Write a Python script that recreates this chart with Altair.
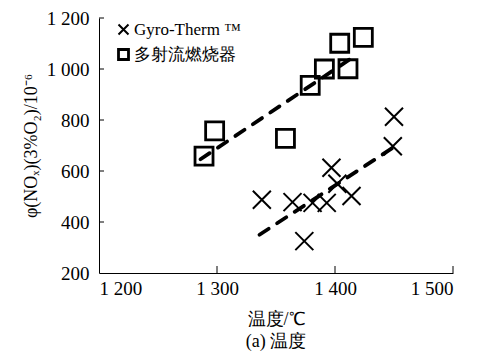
import altair as alt
import pandas as pd

# ---- data ----
series_names = ["Gyro-Therm ™", "多射流燃烧器"]

gyro_temp = [1338, 1364, 1381, 1393, 1374, 1397, 1402, 1414, 1449, 1450]
gyro_nox = [487, 478, 475, 475, 325, 613, 550, 502, 697, 813]

multi_temp = [1289, 1298, 1358, 1379, 1391, 1404, 1411, 1424]
multi_nox = [658, 757, 728, 936, 1000, 1101, 1001, 1124]

# dashed trend lines (endpoints)
gyro_trend_temp = [1336, 1451]
gyro_trend_nox = [350, 697]
multi_trend_temp = [1286, 1419]
multi_trend_nox = [646, 1058]

x_ticks = [1300, 1400, 1500]
y_ticks = [400, 600, 800, 1000, 1200]

FONT = "Liberation Serif"
W, H = 354, 255

pts = pd.DataFrame({"t": gyro_temp, "v": gyro_nox, "s": series_names[0]})
pts = pd.concat(
    [pts, pd.DataFrame({"t": multi_temp, "v": multi_nox, "s": series_names[1]})],
    ignore_index=True,
)
trend = pd.concat(
    [
        pd.DataFrame({"t": gyro_trend_temp, "v": gyro_trend_nox, "s": series_names[0]}),
        pd.DataFrame({"t": multi_trend_temp, "v": multi_trend_nox, "s": series_names[1]}),
    ],
    ignore_index=True,
)

label_expr = "replace(format(datum.value, ','), ',', ' ')"

x_scale = alt.Scale(domain=[1200, 1500], nice=False)
y_scale = alt.Scale(domain=[200, 1200], nice=False)

x_enc = alt.X(
    "t:Q",
    scale=x_scale,
    axis=alt.Axis(
        values=[1200, 1300, 1400, 1500],
        labelExpr=label_expr,
        ticks=False,
        grid=False,
        title="温度/℃",
        labelPadding=6,
        titlePadding=12,
    ),
)
y_enc = alt.Y(
    "v:Q",
    scale=y_scale,
    axis=alt.Axis(
        values=[200, 400, 600, 800, 1000, 1200],
        labelExpr=label_expr,
        ticks=False,
        grid=False,
        title="φ(NOₓ)(3%O₂)/10⁻⁶",
        labelPadding=10,
        titlePadding=6,
    ),
)

lines = alt.Chart(trend).mark_line(
    color="black", strokeWidth=3.8, strokeDash=[11, 10], strokeCap="round"
).encode(x=x_enc, y=y_enc, detail="s:N")

points = alt.Chart(pts).mark_point(filled=False, color="black", size=324, opacity=1).encode(
    x=alt.X("t:Q", scale=x_scale),
    y=alt.Y("v:Q", scale=y_scale),
    shape=alt.Shape(
        "s:N",
        scale=alt.Scale(domain=series_names, range=["M-1,-1L1,1M-1,1L1,-1", "square"]),
        legend=alt.Legend(title=None),
    ),
    strokeWidth=alt.StrokeWidth(
        "s:N", scale=alt.Scale(domain=series_names, range=[2.0, 2.8]), legend=None
    ),
)

xt = alt.Chart(pd.DataFrame({"t": x_ticks})).mark_rule(color="black", strokeWidth=1).encode(
    x=alt.X("t:Q", scale=x_scale), y=alt.value(H), y2=alt.value(H - 7)
)
yt = alt.Chart(pd.DataFrame({"v": y_ticks})).mark_rule(color="black", strokeWidth=1).encode(
    y=alt.Y("v:Q", scale=y_scale), x=alt.value(0), x2=alt.value(5)
)

chart = (
    alt.layer(lines, points, xt, yt)
    .properties(
        width=W,
        height=H,
        autosize=alt.AutoSizeParams(type="none"),
        padding={"left": 91, "top": 10, "right": 17, "bottom": 79},
        title=alt.TitleParams("(a) 温度", orient="bottom", offset=5, fontSize=18,
                              font=FONT, fontWeight="normal", color="black"),
    )
    .configure_view(stroke=None)
    .configure_axis(
        domainColor="black",
        domainWidth=1,
        labelFont=FONT,
        labelFontSize=19,
        labelColor="black",
        titleFont=FONT,
        titleFontSize=18,
        titleFontWeight="normal",
        titleColor="black",
    )
    .configure_legend(
        orient="none",
        legendX=16,
        legendY=3,
        padding=0,
        labelFont=FONT,
        labelFontSize=17,
        labelColor="black",
        symbolSize=100,
        symbolStrokeWidth=2.5,
        symbolStrokeColor="black",
        symbolFillColor="transparent",
        rowPadding=4,
        labelOffset=2,
    )
)

chart.save("out.html", embed_options={"renderer": "svg", "actions": False})
